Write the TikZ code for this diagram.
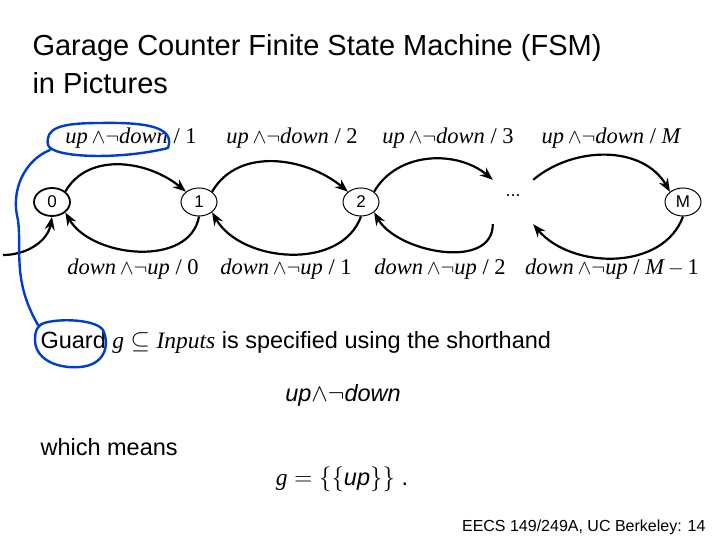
\documentclass[tikz,border=0pt]{standalone}
\usepackage{fontspec}
\setmainfont{Liberation Sans}
\newfontfamily\tms{Liberation Serif}
\usetikzlibrary{shapes.geometric,arrows.meta}
\newcommand{\lab}[1]{{\tms\itshape #1}}
\newcommand{\up}[1]{\textup{#1}}
\begin{document}
\begin{tikzpicture}[x=1pt,y=-1pt,
  st/.style={draw,line width=1pt,ellipse,minimum width=36pt,minimum height=28pt,inner sep=0pt,font=\fontsize{17}{17}\selectfont},
  tr/.style={line width=2.2pt,-{Stealth[length=13pt,width=10pt]}},
  tl/.style={font=\fontsize{22.5}{22.5}\selectfont\tms\itshape},
  hand/.style={draw=blue!70!cyan!80!black,line width=2.4pt,line cap=round,line join=round}]
\useasboundingbox (0,0) rectangle (720,540);
\node[anchor=west,font=\fontsize{29}{29}\selectfont] (t1) at (29,48) {Garage Counter Finite State Machine (FSM)};
\node[anchor=west,font=\fontsize{29}{29}\selectfont] (t2) at (29,83) {in Pictures};
\node[st,line width=1.8pt] (s0) at (52,202) {0};
\node[st] (s1) at (199,202) {1};
\node[st] (s2) at (361,202) {2};
\node[inner sep=0pt,minimum width=40pt,minimum height=44pt] (sd) at (513,202) {};
\node[font=\fontsize{18}{18}\selectfont] at (513,196) {...};
\node[st] (sM) at (683,202) {M};
\draw[tr] (s0.north east) to[out=60,in=140] (s1.north west);
\draw[tr] (s1.north east) to[out=60,in=140] (s2.north west);
\draw[tr] (s2.north east) to[out=60,in=140] (sd.north west);
\draw[tr] (sd.north east) to[out=40,in=120] (sM.north west);
\draw[tr] (s1.south) to[out=-100,in=-60] (s0.south east);
\draw[tr] (s2.south) to[out=-110,in=-60] (s1.south east);
\draw[tr] (sd.south west) to[out=-90,in=-60] (s2.south east);
\draw[tr] (sM.south) to[out=-110,in=-50] (sd.south east);
\coordinate (ini) at (3,255);
\draw[tr] (ini) to[out=0,in=-100] (s0.south);
\node[tl] (a1) at (131,138) {up\,$\wedge\neg$down \up{/ 1}};
\node[tl] (a2) at (292,138) {up\,$\wedge\neg$down \up{/ 2}};
\node[tl] (a3) at (448,138) {up\,$\wedge\neg$down \up{/ 3}};
\node[tl] (a4) at (611,138) {up\,$\wedge\neg$down \up{/} M};
\node[tl] (b1) at (133,269) {down\,$\wedge\neg$up \up{/ 0}};
\node[tl] (b2) at (286,269) {down\,$\wedge\neg$up \up{/ 1}};
\node[tl] (b3) at (440,269) {down\,$\wedge\neg$up \up{/ 2}};
\node[tl] (b4) at (612,269) {down\,$\wedge\neg$up \up{/} M\,$-$\,\up{1}};
\node[anchor=west,font=\fontsize{23.5}{23.5}\selectfont] (g1) at (37,342) {Guard \lab{g} $\subseteq$ \lab{Inputs} is specified using the shorthand};
\node[font=\fontsize{23.5}{23.5}\selectfont] (g2) at (343,395) {\itshape up$\wedge\neg$down};
\node[anchor=west,font=\fontsize{23.5}{23.5}\selectfont] (g3) at (37,447) {which means};
\node[font=\fontsize{23.5}{23.5}\selectfont] (g4) at (342,479) {\lab{g} $=\{\{$\textit{up}$\}\}$ .};
\node[anchor=east,font=\fontsize{16}{16}\selectfont] (ft) at (709,527) {EECS 149/249A, UC Berkeley: 14};
\draw[hand] (168,148) .. controls (175,128) and (150,122) .. (100,123)
  .. controls (60,123) and (45,128) .. (48,145) .. controls (52,158) and (120,160) .. (168,148);
\draw[hand] (50,150) .. controls (25,160) and (10,190) .. (18,220)
  .. controls (22,250) and (12,280) .. (38,325);
\draw[hand] (40,325) .. controls (50,318) and (95,318) .. (103,330)
  .. controls (110,345) and (105,365) .. (80,367) .. controls (55,369) and (35,358) .. (35,340)
  .. controls (35,330) and (38,326) .. (42,324);
\end{tikzpicture}
\end{document}
